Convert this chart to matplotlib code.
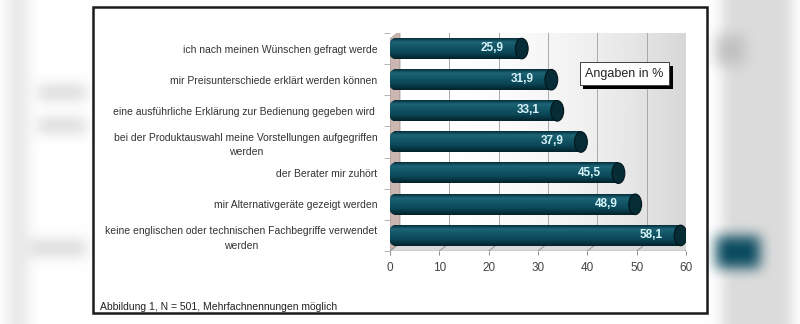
import numpy as np
import matplotlib
matplotlib.use('Agg')
import matplotlib.pyplot as plt
from matplotlib.patches import Rectangle, Ellipse, Polygon
from matplotlib.colors import LinearSegmentedColormap
import matplotlib.patheffects as pe

plt.rcParams['font.family'] = ['Liberation Sans', 'DejaVu Sans']

############################
#  DATA
############################

categories = [
    'ich nach meinen Wünschen gefragt werde',
    'mir Preisunterschiede erklärt werden können',
    'eine ausführliche Erklärung zur Bedienung gegeben wird ',
    'bei der Produktauswahl meine Vorstellungen aufgegriffen\nwerden',
    'der Berater mir zuhört',
    'mir Alternativgeräte gezeigt werden',
    'keine englischen oder technischen Fachbegriffe verwendet\nwerden',
]
values = [25.9, 31.9, 33.1, 37.9, 45.5, 48.9, 58.1]
xticks = [0, 10, 20, 30, 40, 50, 60]
legend_text = 'Angaben in %'
footnote = 'Abbildung 1, N = 501, Mehrfachnennungen möglich'

W, H = 800, 324
fig = plt.figure(figsize=(W / 100, H / 100), dpi=100)

############################
#  BACKGROUND (blurred screenshot look)
############################

bg = np.ones((H, W, 3))
bg[:, 8:28] = 0.91
bg[85:100, 38:86] = 0.86
bg[118:133, 38:86] = 0.86
bg[240:256, 30:86] = 0.86
bg[:, 722:792] = 0.86
bg[35:65, 716:745] = 0.76
bg[236:268, 716:760] = (0.05, 0.30, 0.38)

def blur(img, k=15, n=2):
    ker = np.ones(k) / k
    p = k
    for _ in range(n):
        img = np.pad(img, p, mode='edge')
        img = np.apply_along_axis(lambda m: np.convolve(m, ker, mode='same'), 1, img)
        img = np.apply_along_axis(lambda m: np.convolve(m, ker, mode='same'), 0, img)
        img = img[p:-p, p:-p]
    return img

for c in range(3):
    bg[:, :, c] = blur(bg[:, :, c])
bg = np.clip(bg, 0, 1)

bax = fig.add_axes([0, 0, 1, 1])
bax.imshow(bg, extent=(0, W, H, 0), aspect='auto')
bax.set_xlim(0, W)
bax.set_ylim(H, 0)
bax.axis('off')
bax.add_patch(Rectangle((93, 7), 614, 306, facecolor='white', edgecolor='#1a1a1a', lw=1.8))
bax.text(100, 307, footnote, fontsize=7.5, color='#222222', ha='left', va='center')

############################
#  MAIN AXES
############################

x0p, x1p, top_p, bot_p = 390, 686, 33, 251
ax = fig.add_axes([x0p / W, 1 - bot_p / H, (x1p - x0p) / W, (bot_p - top_p) / H])
ax.patch.set_visible(False)
ytop, ybot = -0.3125, 6.5
ax.set_xlim(0, 60)
ax.set_ylim(ybot, ytop)
for s in ax.spines.values():
    s.set_visible(False)

DX = 10 / ((x1p - x0p) / 60.0)   # depth offset in data units
DY = 8 / 32.0

# back wall with gradient
gx = np.linspace(0, 1, 200)
wall = 1 - 0.17 * gx ** 2.2
wall = np.tile(wall, (50, 1))
ax.imshow(wall, extent=(DX, 60 + DX, ybot - DY, ytop - DY), cmap='gray', vmin=0, vmax=1,
          aspect='auto', zorder=0, origin='upper')
ax.plot([DX, 60 + DX, 60 + DX], [ytop - DY, ytop - DY, ybot - DY], color='#909090', lw=0.8, zorder=1)

# left wall
ax.add_patch(Polygon([(0, ytop), (DX, ytop - DY), (DX, ybot - DY), (0, ybot)],
                     facecolor='#cbb6b1', edgecolor='#9a8a86', lw=0.5, zorder=1))
# floor
ax.add_patch(Polygon([(0, ybot), (60, ybot), (60 + DX, ybot - DY), (DX, ybot - DY)],
                     facecolor='#d9d9d9', edgecolor='none', zorder=1))
ax.plot([60, 60 + DX], [ybot, ybot - DY], color='#606060', lw=1.0, zorder=2)
ax.plot([0, 60], [ybot, ybot], color='#7a7a7a', lw=0.9, zorder=2)

# grid lines on wall and floor
for t in xticks[1:-1]:
    ax.plot([t + DX, t + DX], [ybot - DY, ytop - DY], color='#a8a8a8', lw=0.7, zorder=1)
for t in xticks:
    ax.plot([t, t + DX], [ybot, ybot - DY], color='#8a8a8a', lw=0.6, zorder=2)

############################
#  CYLINDER BARS
############################

cyl = LinearSegmentedColormap.from_list('cyl', [
    (0.0, '#062f3a'), (0.18, '#1d6476'), (0.35, '#155a6b'),
    (0.7, '#0b4656'), (1.0, '#03222a')])
grad = np.linspace(0, 1, 64).reshape(-1, 1)

bh = 0.66
cap_w = 2.6
for i, v in enumerate(values):
    xs, xe = 0.9, v + 0.8
    ax.imshow(grad, extent=(xs, xe, i + bh / 2, i - bh / 2), cmap=cyl,
              aspect='auto', zorder=3, origin='upper')
    left = Ellipse((xs, i), 2.4, bh, facecolor='none', edgecolor='none', zorder=3)
    ax.add_patch(left)
    im2 = ax.imshow(grad, extent=(xs - 1.3, xs, i + bh / 2, i - bh / 2), cmap=cyl,
                    aspect='auto', zorder=3, origin='upper')
    im2.set_clip_path(left)
    ax.add_patch(Ellipse((xe, i), cap_w, bh, facecolor='#062c36', edgecolor='#01161b',
                         lw=0.8, zorder=4))
    ax.text(v - 2.8, i - 0.02, f'{v:.1f}'.replace('.', ','), ha='right', va='center',
            color='#d6f3f8', fontsize=8.5, fontweight='bold', zorder=5)

ax.set_xticks(xticks)
ax.tick_params(axis='x', length=3, width=0.6, color='#777777', labelsize=8.5,
               labelcolor='#444444', pad=5)
ax.set_yticks(range(len(categories)))
ax.set_yticklabels(categories)
ax.set_yticks([i + 0.5 for i in range(-1, len(categories))], minor=True)
ax.tick_params(axis='y', which='major', length=0, pad=9, labelsize=7.5, labelcolor='#333333')
ax.tick_params(axis='y', which='minor', length=4, width=0.5, color='#999999')
for lbl in ax.get_yticklabels():
    lbl.set_multialignment('center')
    lbl.set_linespacing(1.55)

# legend-like box
t = ax.text(47.5, 0.81, legend_text, fontsize=9, color='#222222', ha='center', va='center',
            zorder=6, bbox=dict(boxstyle='square,pad=0.45', facecolor='white',
                                edgecolor='#333333', lw=0.6))
t.get_bbox_patch().set_path_effects([pe.withSimplePatchShadow(offset=(2.5, -2.5),
                                                               shadow_rgbFace='black', alpha=1),
                                     pe.Normal()])

fig.savefig('out.png', dpi=100)
